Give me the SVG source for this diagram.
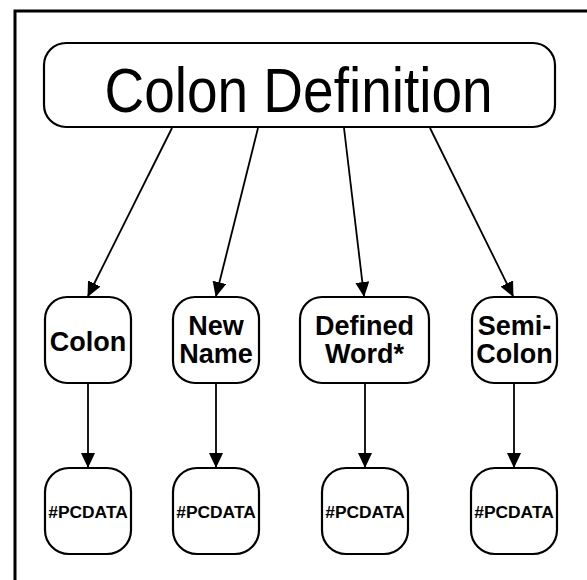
<svg xmlns="http://www.w3.org/2000/svg" width="587" height="580" viewBox="0 0 587 580">
  <style>
    .node { fill: #ffffff; stroke: #000000; stroke-width: 2.2; }
    .frame { fill: none; stroke: #000000; stroke-width: 3; }
    .edge { fill: none; stroke: #000000; stroke-width: 1.8; marker-end: url(#arrow); }
    .title { font-family: "Liberation Sans", Arial, sans-serif; font-size: 55px; text-anchor: middle; fill: #000; }
    .label { font-family: "Liberation Sans", Arial, sans-serif; font-size: 27px; font-weight: bold; text-anchor: middle; fill: #000; }
    .leaf { font-family: "Liberation Sans", Arial, sans-serif; font-size: 17.4px; font-weight: bold; text-anchor: middle; fill: #000; }
  </style>
  <defs>
    <marker id="arrow" markerUnits="userSpaceOnUse" markerWidth="16" markerHeight="16" refX="14" refY="7" orient="auto">
      <path d="M0,0 L15,7 L0,14 Z" fill="#000"/>
    </marker>
  </defs>

  <rect width="587" height="580" fill="#ffffff"/>
  <!-- page frame, open to the right and bottom -->
  <rect class="frame" x="15" y="11" width="600" height="600"/>

  <g id="connectors">
    <line class="edge" x1="172" y1="128" x2="88" y2="296"/>
    <line class="edge" x1="258" y1="128" x2="216" y2="296"/>
    <line class="edge" x1="344" y1="128" x2="364" y2="296"/>
    <line class="edge" x1="430" y1="128" x2="513" y2="296"/>
    <line class="edge" x1="88" y1="384" x2="88" y2="467"/>
    <line class="edge" x1="216" y1="384" x2="216" y2="467"/>
    <line class="edge" x1="365" y1="384" x2="365" y2="467"/>
    <line class="edge" x1="514" y1="384" x2="514" y2="467"/>
  </g>

  <g id="colon-definition">
    <rect class="node" x="44" y="43" width="511" height="84" rx="22" ry="22"/>
    <!-- title lettering is drawn slightly tall -->
    <text class="title" transform="translate(298.5,112) scale(1,1.15)">Colon Definition</text>
  </g>

  <g id="colon">
    <rect class="node" x="45" y="297" width="86" height="86" rx="22" ry="22"/>
    <text class="label" x="88" y="351">Colon</text>
  </g>
  <g id="new-name">
    <rect class="node" x="173" y="297" width="86" height="86" rx="22" ry="22"/>
    <text class="label" x="216" y="335">New</text>
    <text class="label" x="216" y="363">Name</text>
  </g>
  <g id="defined-word">
    <rect class="node" x="300" y="297" width="129" height="86" rx="22" ry="22"/>
    <text class="label" x="364.5" y="335">Defined</text>
    <text class="label" x="364.5" y="363">Word*</text>
  </g>
  <g id="semi-colon">
    <rect class="node" x="472" y="297" width="85" height="86" rx="22" ry="22"/>
    <text class="label" x="514.5" y="335">Semi-</text>
    <text class="label" x="514.5" y="363">Colon</text>
  </g>

  <g id="pcdata-1">
    <rect class="node" x="45" y="468" width="86" height="86" rx="24" ry="24"/>
    <text class="leaf" x="88" y="518">#PCDATA</text>
  </g>
  <g id="pcdata-2">
    <rect class="node" x="173" y="468" width="86" height="86" rx="24" ry="24"/>
    <text class="leaf" x="216" y="518">#PCDATA</text>
  </g>
  <g id="pcdata-3">
    <rect class="node" x="322" y="468" width="86" height="86" rx="24" ry="24"/>
    <text class="leaf" x="365" y="518">#PCDATA</text>
  </g>
  <g id="pcdata-4">
    <rect class="node" x="471" y="468" width="86" height="86" rx="24" ry="24"/>
    <text class="leaf" x="514" y="518">#PCDATA</text>
  </g>
</svg>
